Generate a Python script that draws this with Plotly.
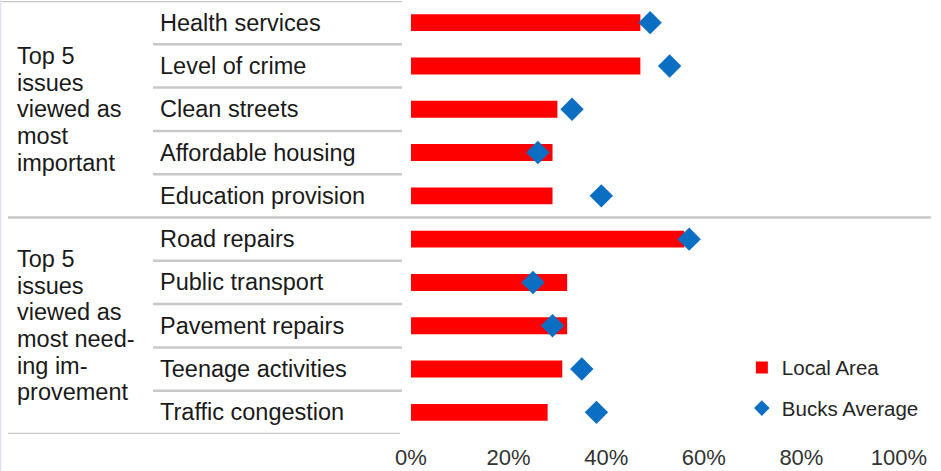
import plotly.graph_objects as go

categories = ["Health services", "Level of crime", "Clean streets", "Affordable housing",
              "Education provision", "Road repairs", "Public transport", "Pavement repairs",
              "Teenage activities", "Traffic congestion"]
local_area = [47, 47, 30, 29, 29, 56, 32, 32, 31, 28]
bucks_average = [49, 53, 33, 26, 39, 57, 25, 29, 35, 38]
group_lines = [["Top 5", "issues", "viewed as", "most", "important"],
               ["Top 5", "issues", "viewed as", "most need-", "ing im-", "provement"]]
group_centers = [2, 7]
tick_vals = [0, 20, 40, 60, 80, 100]
tick_text = ["0%", "20%", "40%", "60%", "80%", "100%"]

W, H = 941, 471
ML, MR, MT, MB = 411, 42, 1, 37
PW = W - ML - MR


def px(xp):
    return (xp - ML) / PW


fig = go.Figure()
fig.add_trace(go.Bar(
    x=local_area, y=categories, orientation="h", name="Local Area",
    marker=dict(color="#FF0000", line=dict(width=0)), width=0.39,
    legendgroup="a",
))
fig.add_trace(go.Scatter(
    x=bucks_average, y=categories, mode="markers", name="Bucks Average",
    marker=dict(symbol="diamond", size=18, color="#0A6EC2", line=dict(width=0)),
    legendgroup="b",
))

line_col = "#C8C8C8"
shapes = []


def hline(y, x0, x1):
    shapes.append(dict(type="line", xref="paper", yref="y", x0=px(x0), x1=px(x1),
                       y0=y, y1=y, line=dict(color=line_col, width=2.5), layer="below"))


hline(-0.5, 0, 402)
for k in [0, 1, 2, 3, 5, 6, 7, 8]:
    hline(k + 0.5, 153, 402)
hline(4.5, 8, 931)
hline(9.5, 8, 400)
shapes.append(dict(type="line", xref="paper", yref="paper", x0=px(0.5), x1=px(0.5),
                   y0=-1, y1=1.1, line=dict(color="#E2E2F2", width=1.5)))

annotations = []
for c in categories:
    annotations.append(dict(text=c, xref="paper", yref="y", x=px(158), y=c,
                            xanchor="left", yanchor="middle", showarrow=False,
                            font=dict(size=23.5, color="#1A1A1A")))
spacing = 0.615
for lines, ctr in zip(group_lines, group_centers):
    n = len(lines)
    for i, t in enumerate(lines):
        annotations.append(dict(text=t, xref="paper", yref="y", x=px(15),
                                y=ctr + (i - (n - 1) / 2) * spacing,
                                xanchor="left", yanchor="middle", showarrow=False,
                                font=dict(size=23.5, color="#1A1A1A")))

fig.update_layout(
    width=W, height=H,
    margin=dict(l=ML, r=MR, t=MT, b=MB, pad=0, autoexpand=False),
    paper_bgcolor="white", plot_bgcolor="white",
    font=dict(family="Liberation Sans, Arial, sans-serif", color="#262626"),
    shapes=shapes, annotations=annotations,
    showlegend=True,
    legend=dict(x=0.678, y=0.1995, xanchor="left", yanchor="top",
                font=dict(size=20.5, color="#262626"), bgcolor="rgba(0,0,0,0)",
                itemsizing="constant", tracegroupgap=11, traceorder="grouped"),
    xaxis=dict(range=[0, 100], tickvals=tick_vals, ticktext=tick_text,
               showgrid=False, zeroline=False, showline=False, ticks="",
               tickfont=dict(size=22, color="#333333"), ticklabelstandoff=8,
               automargin=False, fixedrange=True),
    yaxis=dict(type="category", categoryorder="array", categoryarray=categories,
               range=[9.5, -0.5], showticklabels=False, showgrid=False,
               zeroline=False, showline=False, ticks="", automargin=False,
               fixedrange=True),
    bargap=0.6,
)

fig.write_html("out.html", config={"displayModeBar": False},
               post_script="document.body.style.margin='0';document.body.style.overflow='hidden';")
